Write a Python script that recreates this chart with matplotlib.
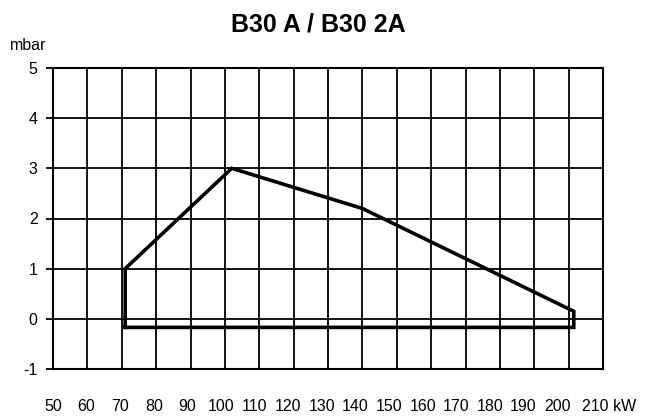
import matplotlib.pyplot as plt

# 燃烧器工作范围
power_kw = [71, 71, 102, 140, 201.5, 201.5, 71]
pressure_mbar = [-0.17, 1.0, 3.0, 2.2, 0.15, -0.17, -0.17]
x_ticks = list(range(50, 211, 10))
y_ticks = list(range(-1, 6))

plt.rcParams['font.family'] = ['Liberation Sans', 'DejaVu Sans']
plt.rcParams['axes.unicode_minus'] = False

fig = plt.figure(figsize=(6.51, 4.16), dpi=100)
ax = fig.add_axes([53 / 651, 1 - 369 / 416, 550 / 651, 301 / 416])

ax.plot(power_kw, pressure_mbar, color='black', lw=2.6, solid_joinstyle='miter', zorder=3)

ax.set_xlim(50, 210)
ax.set_ylim(-1, 5)
ax.set_xticks(x_ticks)
ax.set_yticks(y_ticks)
ax.set_xticklabels([])
ax.grid(True, color='black', lw=1.3)
ax.tick_params(axis='x', length=0)
ax.tick_params(axis='y', length=5, width=1.3, pad=6, labelsize=11.5)
for s in ax.spines.values():
    s.set_linewidth(1.5)

# x 轴标签比网格略紧
step = 33.6 / 34.375
for i, v in enumerate(x_ticks[:-1]):
    ax.text(50 + i * 10 * step, -1.75, str(v), ha='center', va='center', fontsize=11.5)
ax.text(50 + 15.75 * 10 * step, -1.75, str(x_ticks[-1]) + ' kW', ha='left', va='center', fontsize=11.5)

fig.text(10 / 651, 1 - 46 / 416, 'mbar', fontsize=11.5, va='center')
fig.text(318 / 651, 1 - 25 / 416, 'B30 A / B30 2A', fontsize=18, fontweight='bold',
         ha='center', va='center')

plt.savefig('out.png', dpi=100)
